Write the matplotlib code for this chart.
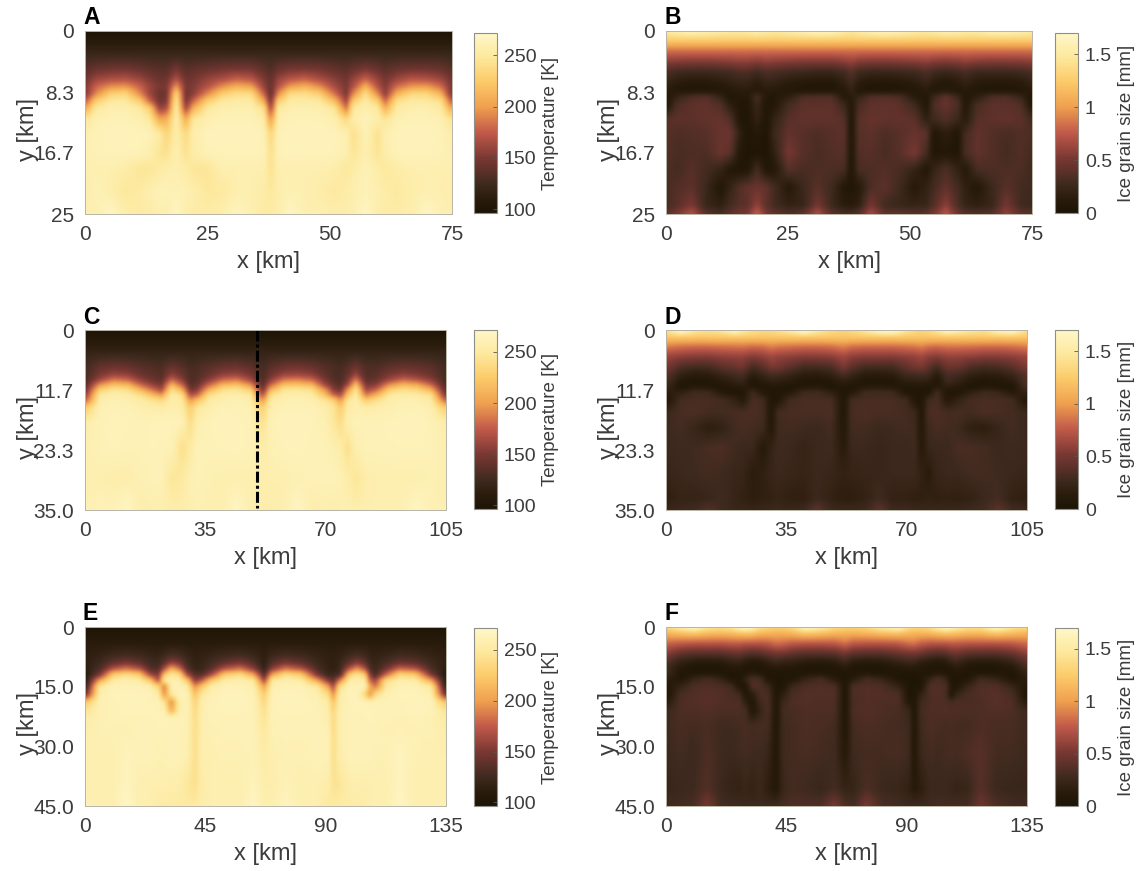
#!/usr/bin/env python3
import numpy as np
import matplotlib
matplotlib.use('Agg')
import matplotlib.pyplot as plt
from matplotlib.colors import LinearSegmentedColormap

plt.rcParams['font.family'] = ['Liberation Sans', 'DejaVu Sans']

x_ab = [0, 2, 5, 8, 11, 13, 15, 16.5, 18.5, 20.5, 22, 25, 28, 31, 34, 36.5, 38, 39.5, 42, 45, 48, 51, 53.5, 55, 57.5, 60, 61.5, 64, 67, 70, 73, 75]
y_a = [0, 3, 5, 6.5, 7.5, 8.5, 9.5, 10.5, 12, 14, 16.7, 19, 22, 25]
temp_a = [
    [99] * 32,
    [122] * 32,
    [136, 142, 145, 146, 142, 138, 135, 135, 146, 135, 138, 142, 146, 148, 147, 138, 132, 142, 147, 148, 146, 140, 136, 142, 148, 142, 136, 142, 145, 145, 142, 136],
    [148, 162, 168, 170, 162, 152, 145, 145, 170, 145, 148, 160, 168, 178, 172, 152, 140, 160, 172, 178, 168, 156, 146, 160, 178, 160, 148, 162, 172, 170, 162, 148],
    [155, 178, 194, 198, 178, 160, 150, 150, 198, 150, 152, 170, 194, 210, 202, 160, 142, 170, 200, 210, 194, 166, 150, 170, 210, 170, 152, 182, 198, 200, 182, 152],
    [155, 192, 228, 235, 192, 162, 144, 145, 235, 144, 155, 192, 228, 240, 238, 178, 138, 192, 238, 240, 228, 184, 150, 192, 240, 192, 155, 210, 235, 235, 210, 155],
    [178, 228, 250, 250, 228, 178, 146, 150, 250, 146, 178, 228, 250, 252, 252, 208, 145, 228, 252, 252, 250, 218, 162, 228, 252, 228, 178, 242, 250, 250, 242, 178],
    [208, 250, 257, 258, 250, 228, 160, 165, 256, 160, 208, 250, 257, 258, 258, 242, 160, 250, 258, 258, 257, 248, 185, 250, 258, 250, 208, 252, 258, 258, 252, 208],
    [248, 260, 262, 262, 258, 250, 205, 208, 258, 205, 248, 258, 262, 262, 262, 255, 195, 258, 262, 263, 262, 258, 235, 256, 262, 256, 245, 260, 262, 262, 260, 245],
    [258, 262, 264, 264, 264, 262, 252, 232, 256, 236, 256, 264, 264, 264, 264, 262, 232, 262, 264, 264, 264, 264, 258, 240, 262, 242, 258, 264, 264, 264, 262, 256],
    [260, 262, 263, 263, 262, 258, 246, 242, 258, 242, 254, 262, 263, 263, 264, 262, 240, 262, 264, 264, 263, 263, 258, 245, 258, 244, 256, 263, 264, 263, 262, 258],
    [258, 258, 258, 254, 246, 246, 252, 256, 258, 254, 246, 246, 258, 258, 258, 258, 242, 258, 258, 258, 258, 256, 248, 254, 262, 255, 248, 254, 258, 258, 258, 258],
    [256, 262, 256, 248, 252, 258, 262, 262, 260, 260, 256, 248, 250, 258, 258, 254, 248, 256, 260, 258, 255, 250, 254, 258, 262, 258, 254, 250, 256, 258, 258, 256],
    [258, 258, 268, 256, 252, 254, 258, 258, 268, 256, 254, 254, 256, 266, 258, 252, 252, 256, 268, 258, 258, 256, 256, 258, 268, 256, 254, 254, 256, 268, 260, 258],
]
y_b = [0, 1, 2.5, 4, 5.5, 7, 8, 9, 10, 12, 14, 16.7, 19, 21.5, 24, 25]
grain_b = [
    [150, 153, 160, 155, 151, 149, 147, 150, 155, 150, 147, 151, 157, 163, 160, 150, 145, 150, 157, 161, 157, 151, 147, 151, 157, 155, 150, 151, 157, 160, 155, 150],
    [128] * 32,
    [85] * 32,
    [58, 56, 55, 55, 56, 58, 60, 60, 56, 60, 58, 56, 54, 54, 54, 58, 62, 56, 54, 54, 55, 57, 60, 56, 54, 56, 60, 56, 55, 55, 56, 58],
    [32, 28, 26, 26, 28, 30, 34, 34, 28, 34, 32, 28, 26, 24, 24, 30, 38, 28, 24, 24, 26, 28, 34, 28, 24, 28, 32, 26, 26, 26, 28, 32],
    [22, 14, 10, 10, 14, 18, 22, 22, 14, 22, 20, 14, 10, 8, 8, 18, 28, 14, 9, 8, 10, 14, 22, 14, 8, 14, 20, 12, 10, 10, 12, 20],
    [14, 7, 6, 6, 7, 10, 14, 14, 10, 14, 12, 8, 6, 5, 5, 10, 22, 8, 5, 5, 6, 8, 14, 8, 10, 8, 12, 7, 6, 6, 7, 12],
    [9, 22, 34, 38, 22, 7, 9, 8, 32, 8, 7, 18, 34, 36, 36, 10, 14, 22, 36, 38, 34, 14, 7, 26, 42, 26, 7, 18, 34, 36, 24, 7],
    [7, 34, 40, 42, 36, 15, 6, 5, 26, 5, 8, 30, 40, 40, 40, 26, 8, 32, 40, 42, 40, 28, 6, 34, 44, 34, 8, 32, 40, 40, 36, 8],
    [38, 40, 40, 42, 44, 36, 6, 5, 20, 5, 20, 38, 42, 42, 42, 38, 5, 38, 44, 42, 42, 40, 18, 28, 36, 26, 12, 38, 40, 42, 40, 30],
    [38, 34, 36, 38, 45, 46, 18, 4, 10, 4, 26, 42, 38, 34, 38, 40, 4, 38, 40, 34, 38, 44, 40, 6, 16, 6, 30, 42, 36, 32, 36, 34],
    [36, 32, 34, 34, 46, 40, 8, 4, 5, 4, 18, 50, 38, 32, 36, 38, 4, 36, 38, 32, 38, 52, 30, 6, 8, 5, 32, 42, 36, 30, 36, 30],
    [34, 30, 38, 30, 22, 8, 5, 6, 30, 6, 8, 38, 32, 34, 34, 32, 4, 32, 34, 36, 32, 22, 8, 22, 34, 20, 10, 32, 34, 34, 34, 28],
    [32, 36, 40, 26, 6, 22, 36, 42, 46, 42, 30, 10, 26, 38, 28, 8, 6, 10, 34, 40, 28, 10, 20, 30, 42, 30, 18, 8, 26, 38, 30, 28],
    [32, 38, 52, 24, 18, 30, 38, 40, 60, 40, 30, 20, 22, 50, 26, 14, 12, 18, 50, 28, 24, 22, 24, 36, 58, 34, 22, 18, 24, 50, 28, 26],
    [40, 50, 70, 38, 30, 40, 48, 50, 76, 50, 42, 34, 40, 68, 38, 30, 30, 36, 66, 40, 40, 36, 40, 50, 72, 46, 36, 34, 36, 60, 40, 38],
]

x_cd = [0, 4, 8, 12, 16, 20, 22, 25, 28, 30.5, 32.5, 36, 40, 44, 48, 51.7, 54, 58, 62, 66, 70, 72.5, 74.5, 76.5, 79, 82, 85, 89, 93, 97, 101, 105]
y_c = [0, 4, 7, 8.5, 9.5, 10.5, 11.5, 12.5, 13.5, 15, 18, 23, 29, 35]
temp_c = [
    [99] * 32,
    [118] * 32,
    [128, 140, 144, 142, 136, 132, 131, 142, 136, 128, 131, 136, 142, 144, 138, 128, 136, 144, 146, 142, 134, 131, 128, 134, 144, 132, 132, 138, 142, 140, 136, 128],
    [130, 150, 160, 157, 144, 137, 135, 157, 144, 132, 132, 144, 157, 160, 150, 130, 144, 160, 162, 157, 140, 132, 130, 140, 160, 134, 137, 150, 157, 152, 144, 128],
    [132, 162, 185, 178, 155, 142, 138, 178, 155, 130, 135, 155, 178, 185, 162, 130, 155, 185, 188, 178, 148, 135, 130, 148, 185, 138, 142, 162, 178, 168, 155, 130],
    [138, 195, 218, 212, 178, 155, 150, 212, 178, 135, 142, 178, 212, 218, 195, 135, 178, 218, 220, 212, 162, 142, 135, 162, 218, 148, 155, 195, 212, 205, 178, 135],
    [148, 228, 245, 240, 210, 178, 165, 240, 210, 145, 155, 210, 240, 245, 228, 145, 210, 245, 247, 240, 195, 155, 145, 195, 245, 162, 178, 228, 240, 232, 210, 142],
    [162, 250, 255, 254, 240, 210, 198, 254, 240, 165, 178, 240, 254, 255, 250, 165, 240, 255, 256, 254, 218, 178, 165, 218, 255, 185, 210, 250, 254, 252, 240, 155],
    [178, 256, 260, 258, 252, 242, 235, 256, 252, 195, 218, 252, 258, 260, 256, 195, 252, 260, 260, 258, 245, 228, 195, 245, 258, 225, 240, 256, 258, 258, 252, 178],
    [228, 260, 262, 262, 258, 255, 254, 258, 254, 225, 248, 258, 262, 262, 260, 228, 258, 262, 262, 262, 256, 246, 225, 252, 258, 254, 256, 258, 262, 262, 258, 228],
    [255, 262, 264, 263, 262, 263, 264, 264, 262, 238, 258, 263, 264, 264, 262, 242, 262, 264, 264, 263, 260, 248, 238, 258, 262, 262, 262, 264, 264, 264, 262, 256],
    [258, 262, 263, 262, 262, 263, 262, 262, 240, 252, 262, 262, 263, 264, 262, 254, 260, 263, 264, 262, 262, 258, 255, 240, 258, 262, 262, 262, 263, 263, 262, 258],
    [258, 258, 256, 256, 260, 262, 262, 246, 250, 260, 262, 260, 258, 258, 258, 258, 258, 258, 260, 262, 262, 262, 260, 256, 246, 256, 258, 258, 258, 258, 260, 258],
    [260, 262, 262, 268, 256, 258, 258, 256, 256, 258, 260, 258, 258, 268, 258, 256, 256, 258, 268, 256, 258, 256, 258, 258, 256, 258, 258, 258, 260, 268, 260, 260],
]
y_d = [0, 1.2, 3, 5, 7, 8.5, 10, 11, 12, 13.5, 16, 19, 23, 28, 33, 35]
grain_d = [
    [140, 168, 145, 140, 145, 165, 150, 140, 135, 135, 140, 150, 170, 150, 135, 130, 135, 145, 165, 170, 145, 135, 130, 135, 145, 165, 155, 145, 140, 160, 168, 140],
    [122] * 32,
    [88, 84, 82, 82, 84, 85, 86, 82, 84, 90, 86, 84, 82, 82, 84, 90, 84, 82, 82, 82, 84, 86, 90, 84, 82, 85, 85, 84, 82, 82, 84, 88],
    [62, 58, 55, 55, 58, 60, 60, 55, 58, 64, 60, 58, 55, 55, 58, 64, 58, 55, 55, 55, 58, 60, 64, 58, 55, 60, 60, 58, 55, 55, 58, 62],
    [50, 34, 30, 30, 40, 46, 48, 30, 40, 52, 50, 40, 30, 30, 34, 52, 40, 30, 30, 30, 42, 50, 52, 42, 30, 46, 46, 34, 30, 32, 40, 52],
    [38, 20, 14, 16, 24, 30, 32, 16, 24, 32, 30, 24, 16, 14, 20, 32, 24, 14, 13, 16, 28, 30, 32, 28, 14, 32, 30, 20, 16, 18, 24, 38],
    [30, 8, 5, 5, 12, 20, 22, 5, 12, 16, 16, 12, 5, 5, 8, 16, 12, 5, 5, 5, 16, 16, 16, 16, 5, 26, 20, 8, 5, 7, 12, 34],
    [24, 5, 12, 10, 5, 11, 14, 10, 5, 8, 8, 5, 10, 12, 5, 8, 5, 12, 14, 10, 7, 8, 8, 7, 12, 16, 11, 5, 10, 7, 5, 30],
    [15, 18, 28, 27, 10, 5, 5, 27, 10, 5, 6, 10, 27, 28, 18, 5, 10, 28, 28, 27, 6, 6, 5, 6, 28, 7, 5, 18, 27, 24, 10, 20],
    [6, 31, 32, 32, 30, 20, 10, 32, 30, 5, 7, 30, 32, 32, 32, 5, 30, 32, 32, 32, 28, 7, 5, 28, 32, 10, 20, 31, 32, 32, 30, 7],
    [26, 32, 34, 30, 30, 32, 32, 34, 30, 6, 30, 32, 32, 32, 34, 6, 32, 34, 32, 32, 30, 26, 6, 32, 34, 30, 32, 30, 34, 32, 30, 26],
    [28, 30, 24, 16, 20, 30, 32, 30, 28, 7, 28, 30, 28, 26, 30, 7, 30, 30, 26, 28, 30, 28, 7, 28, 32, 30, 28, 18, 16, 24, 30, 26],
    [26, 28, 28, 32, 34, 28, 26, 26, 10, 22, 28, 26, 22, 26, 28, 12, 26, 26, 24, 26, 26, 28, 10, 24, 26, 26, 32, 32, 30, 26, 28, 26],
    [24, 26, 28, 30, 28, 24, 24, 14, 18, 24, 26, 24, 22, 26, 24, 20, 22, 24, 24, 26, 26, 26, 20, 12, 24, 26, 26, 30, 30, 28, 26, 24],
    [18, 22, 22, 24, 28, 22, 20, 16, 18, 20, 22, 18, 18, 26, 20, 16, 16, 20, 28, 20, 20, 18, 18, 20, 18, 20, 18, 20, 26, 30, 20, 18],
    [24, 26, 28, 36, 28, 24, 24, 22, 24, 24, 26, 24, 26, 40, 26, 24, 24, 26, 40, 26, 26, 24, 24, 24, 24, 24, 24, 26, 30, 40, 28, 26],
]

x_ef = [0, 5, 10, 15, 20, 24, 27, 29.5, 32, 35, 38, 41, 43.5, 47, 52, 58, 63, 67, 70, 75, 81, 87, 91, 93, 95.5, 99, 102, 105, 107, 109, 113, 118, 124, 130, 135]
y_e = [0, 4, 7, 9, 10.5, 12, 13.5, 15, 17, 19, 21, 23, 27, 33, 40, 45]
temp_e = [
    [99] * 35,
    [110] * 35,
    [114, 118, 124, 127, 124, 120, 118, 124, 130, 127, 120, 115, 116, 120, 124, 127, 122, 114, 122, 127, 124, 118, 115, 114, 117, 124, 129, 124, 118, 117, 120, 126, 124, 118, 114],
    [115, 124, 140, 150, 140, 127, 124, 140, 160, 150, 127, 117, 120, 127, 140, 150, 135, 114, 135, 150, 140, 124, 117, 114, 120, 140, 156, 140, 124, 120, 130, 144, 140, 124, 116],
    [113, 131, 171, 186, 171, 136, 131, 171, 211, 186, 136, 120, 122, 136, 171, 186, 156, 118, 156, 186, 171, 131, 118, 115, 123, 171, 198, 171, 131, 123, 146, 180, 171, 131, 114],
    [110, 150, 225, 240, 225, 165, 150, 225, 250, 240, 165, 135, 135, 165, 225, 240, 205, 135, 205, 240, 225, 150, 122, 125, 130, 225, 248, 225, 150, 130, 180, 235, 225, 150, 110],
    [114, 205, 254, 258, 254, 225, 170, 254, 258, 258, 225, 155, 175, 225, 254, 258, 250, 165, 250, 258, 254, 205, 155, 140, 190, 254, 258, 254, 175, 165, 240, 256, 254, 205, 117],
    [125, 250, 262, 262, 262, 258, 235, 185, 262, 262, 255, 195, 225, 255, 262, 262, 258, 205, 258, 262, 262, 250, 205, 165, 240, 262, 262, 262, 205, 185, 250, 262, 262, 250, 125],
    [150, 258, 264, 264, 264, 262, 256, 195, 250, 264, 262, 220, 250, 260, 264, 264, 262, 228, 262, 264, 264, 258, 240, 195, 256, 264, 264, 235, 195, 240, 260, 264, 264, 260, 150],
    [225, 260, 262, 264, 264, 262, 262, 245, 190, 258, 262, 232, 256, 262, 264, 264, 262, 236, 262, 264, 264, 262, 252, 222, 256, 262, 264, 262, 260, 262, 262, 262, 264, 262, 225],
    [245, 260, 262, 264, 264, 264, 262, 258, 205, 256, 262, 236, 258, 262, 264, 264, 262, 242, 262, 264, 264, 262, 256, 232, 258, 262, 264, 264, 264, 262, 262, 262, 264, 262, 245],
    [255, 260, 262, 262, 262, 262, 264, 264, 262, 262, 262, 238, 258, 262, 262, 262, 262, 245, 262, 262, 262, 262, 258, 236, 258, 262, 262, 262, 264, 262, 262, 260, 262, 260, 252],
    [258, 260, 260, 260, 262, 262, 262, 262, 262, 262, 260, 240, 258, 260, 262, 262, 262, 250, 260, 262, 262, 262, 262, 238, 258, 262, 262, 262, 262, 262, 260, 262, 260, 260, 256],
    [258, 258, 258, 264, 262, 262, 260, 260, 262, 262, 258, 240, 258, 258, 260, 260, 262, 254, 258, 260, 260, 262, 262, 240, 255, 262, 262, 262, 262, 260, 260, 266, 260, 258, 258],
    [258, 258, 258, 266, 258, 258, 258, 258, 256, 256, 248, 242, 254, 258, 258, 258, 264, 256, 256, 262, 258, 258, 256, 244, 246, 256, 258, 256, 258, 258, 258, 266, 258, 258, 258],
    [262, 258, 258, 270, 258, 258, 254, 254, 252, 252, 250, 250, 256, 258, 258, 258, 268, 258, 258, 266, 258, 258, 250, 250, 252, 254, 254, 254, 258, 258, 258, 268, 258, 258, 260],
]
y_f = [0, 1.5, 4, 6.5, 8.5, 10, 11.5, 13, 15, 17, 19, 21, 25, 32, 41, 45]
grain_f = [
    [135, 155, 172, 145, 140, 145, 165, 175, 165, 140, 133, 130, 130, 135, 170, 155, 135, 130, 130, 135, 155, 168, 140, 135, 133, 140, 160, 172, 165, 158, 140, 140, 170, 145, 135],
    [112, 118, 122, 116, 114, 116, 120, 122, 120, 114, 112, 110, 110, 114, 122, 118, 112, 112, 110, 112, 118, 120, 114, 112, 112, 114, 118, 122, 120, 118, 114, 114, 122, 116, 112],
    [80, 76, 74, 74, 74, 76, 76, 74, 74, 74, 76, 84, 82, 76, 74, 74, 76, 84, 76, 74, 74, 76, 84, 86, 78, 74, 74, 74, 76, 76, 74, 74, 74, 76, 82],
    [56, 44, 40, 40, 40, 44, 46, 42, 38, 40, 46, 50, 50, 44, 40, 40, 42, 50, 42, 40, 40, 46, 50, 50, 48, 40, 38, 40, 46, 48, 42, 40, 40, 46, 58],
    [38, 22, 16, 14, 16, 22, 24, 16, 12, 14, 22, 28, 24, 22, 16, 14, 18, 28, 18, 14, 16, 24, 28, 28, 20, 16, 12, 16, 24, 28, 18, 15, 16, 24, 40],
    [28, 12, 6, 5, 6, 11, 12, 6, 5, 5, 11, 14, 12, 11, 6, 5, 7, 14, 7, 5, 6, 12, 14, 14, 10, 6, 5, 6, 12, 16, 8, 5, 6, 12, 30],
    [28, 6, 5, 6, 5, 5, 6, 5, 12, 6, 5, 6, 6, 5, 5, 6, 5, 6, 5, 6, 5, 6, 6, 6, 8, 5, 8, 5, 6, 8, 5, 6, 5, 6, 20],
    [18, 5, 22, 30, 22, 5, 5, 22, 34, 30, 5, 5, 5, 5, 22, 30, 12, 5, 12, 30, 22, 5, 5, 5, 5, 22, 34, 22, 5, 5, 6, 28, 22, 5, 15],
    [8, 22, 34, 36, 34, 30, 8, 5, 36, 34, 26, 5, 5, 26, 34, 36, 34, 5, 34, 36, 34, 22, 5, 5, 5, 36, 36, 34, 8, 6, 24, 36, 36, 24, 8],
    [5, 32, 36, 38, 36, 32, 30, 5, 14, 34, 32, 5, 16, 32, 36, 36, 36, 5, 34, 36, 36, 34, 5, 5, 20, 34, 36, 32, 5, 22, 32, 36, 38, 32, 5],
    [14, 34, 36, 38, 36, 34, 34, 18, 5, 28, 34, 5, 26, 34, 36, 34, 34, 5, 32, 36, 34, 34, 10, 5, 28, 34, 34, 34, 30, 34, 32, 34, 38, 34, 14],
    [26, 34, 34, 36, 34, 34, 34, 30, 5, 22, 34, 5, 30, 32, 34, 34, 34, 5, 34, 36, 34, 32, 24, 5, 30, 34, 34, 36, 34, 34, 34, 34, 36, 34, 26],
    [28, 32, 30, 32, 28, 28, 30, 32, 30, 32, 30, 5, 28, 30, 34, 32, 30, 6, 30, 34, 32, 30, 28, 5, 28, 34, 32, 30, 32, 30, 30, 34, 32, 32, 28],
    [26, 30, 26, 34, 28, 26, 28, 30, 28, 28, 24, 6, 28, 30, 32, 30, 28, 10, 28, 30, 30, 32, 28, 6, 26, 30, 28, 30, 32, 30, 34, 38, 30, 30, 26],
    [24, 26, 28, 36, 26, 22, 20, 24, 20, 26, 16, 8, 24, 30, 28, 24, 30, 22, 22, 34, 26, 24, 20, 10, 16, 26, 26, 26, 24, 22, 24, 38, 26, 24, 24],
    [28, 30, 32, 50, 30, 28, 28, 26, 26, 26, 26, 26, 30, 34, 34, 34, 50, 34, 30, 50, 32, 30, 26, 26, 26, 28, 30, 30, 30, 30, 30, 46, 34, 30, 28],
]

xticks_ab = [0, 25, 50, 75]
xticks_cd = [0, 35, 70, 105]
xticks_ef = [0, 45, 90, 135]
yticks_ab = [0, 25 / 3, 50 / 3, 25]
yticks_cd = [0, 35 / 3, 70 / 3, 35]
yticks_ef = [0, 15, 30, 45]
ylabels_ab = ['0', '8.3', '16.7', '25']
ylabels_cd = ['0', '11.7', '23.3', '35.0']
ylabels_ef = ['0', '15.0', '30.0', '45.0']
temp_ticks = [100, 150, 200, 250]
grain_ticks = [0, 0.5, 1, 1.5]
grain_labels = ['0', '0.5', '1', '1.5']

W, H = 1142, 871
TXT = '#3c3c3c'
FRAME = '#b8b4a8'

cmap = LinearSegmentedColormap.from_list('ice', [
    (0.00, '#1c1405'), (0.08, '#2a1c0c'), (0.163, '#3f2a1f'), (0.306, '#7a3833'),
    (0.449, '#c25a4a'), (0.591, '#f0a04f'), (0.734, '#fccb6a'), (0.877, '#fdeaa0'),
    (1.00, '#fff7c9')])

fig = plt.figure(figsize=(W / 100, H / 100), dpi=100)


def box(left, top, right, bottom):
    return [left / W, 1 - bottom / H, (right - left) / W, (bottom - top) / H]


def regrid(x, y, z):
    # the read-off grids are uneven, imshow needs even cells
    xs = np.linspace(x[0], x[-1], 130)
    ys = np.linspace(y[0], y[-1], 65)
    rows = np.array([np.interp(xs, x, r) for r in z])
    return np.array([np.interp(ys, y, c) for c in rows.T]).T


def panel(letter, x, y, z, rect, cbar_rect, xticks, yticks, ylabels, kind):
    ax = fig.add_axes(box(*rect))
    z = np.array(z, dtype=float)
    if kind == 'temp':
        vmin, vmax, ticks, labels, name = 96.5, 271.5, temp_ticks, None, 'Temperature [K]'
    else:
        z = z / 100
        vmin, vmax, ticks, labels, name = 0, 1.7, grain_ticks, grain_labels, 'Ice grain size [mm]'
    m = ax.imshow(regrid(x, y, z), extent=[x[0], x[-1], y[-1], y[0]], aspect='auto',
                  interpolation='bicubic', cmap=cmap, vmin=vmin, vmax=vmax)
    ax.set_xticks(xticks)
    ax.set_yticks(yticks)
    ax.set_yticklabels(ylabels)
    ax.tick_params(length=0, labelsize=15, colors=TXT, pad=8)
    ax.set_xlabel('x [km]', fontsize=17, color=TXT, labelpad=5)
    ax.set_ylabel('y [km]', fontsize=17, color=TXT, labelpad=-4, y=0.46)
    for s in ax.spines.values():
        s.set_color(FRAME)
        s.set_linewidth(0.7)
    fig.text((rect[0] - 2) / W, 1 - (rect[1] - 13) / H, letter, fontsize=16.5, fontweight='bold',
             color='black', ha='left', va='center')

    cax = fig.add_axes(box(*cbar_rect))
    cb = fig.colorbar(m, cax=cax, ticks=ticks)
    if labels:
        cb.set_ticklabels(labels)
    cb.ax.tick_params(direction='in', length=3, width=0.6, color='#555555', labelsize=14,
                      labelcolor=TXT, pad=5)
    cb.outline.set_edgecolor('#8f8f88')
    cb.outline.set_linewidth(0.8)
    cb.set_label(name, fontsize=13.5, color=TXT, labelpad=4)
    return ax


panel('A', x_ab, y_a, temp_a, (85, 31, 452, 214), (474, 33, 497, 213), xticks_ab, yticks_ab, ylabels_ab, 'temp')
panel('B', x_ab, y_b, grain_b, (666, 31, 1032, 214), (1055, 33, 1078, 213), xticks_ab, yticks_ab, ylabels_ab, 'grain')
ax_c = panel('C', x_cd, y_c, temp_c, (85, 330, 446, 510), (474, 330, 497, 509), xticks_cd, yticks_cd, ylabels_cd, 'temp')
panel('D', x_cd, y_d, grain_d, (666, 330, 1027, 510), (1055, 330, 1078, 509), xticks_cd, yticks_cd, ylabels_cd, 'grain')
panel('E', x_ef, y_e, temp_e, (85, 627, 446, 806), (474, 628, 497, 806), xticks_ef, yticks_ef, ylabels_ef, 'temp')
panel('F', x_ef, y_f, grain_f, (666, 627, 1027, 806), (1055, 628, 1078, 806), xticks_ef, yticks_ef, ylabels_ef, 'grain')

# profile location marked in panel C
ax_c.plot([50, 50], [0, 34.6], color='black', lw=2.2, ls=(0, (3.6, 1, 1, 1)))

fig.savefig('out.png', dpi=100)
